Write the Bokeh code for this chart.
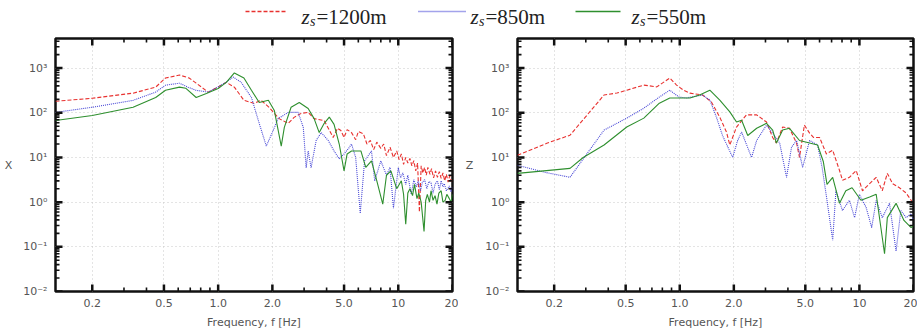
from bokeh.plotting import figure
from bokeh.models import (FixedTicker, CustomJSTickFormatter, Range1d, Label)
from bokeh.layouts import column, row
from bokeh.embed import file_html
from bokeh.resources import INLINE
import math

# ---------------- data ----------------
series_names = ["1200m", "850m", "550m"]
series_colors = ["#e8312f", "#4646d6", "#2e8f2e"]
series_dashes = ["4 2", "1 1", "solid"]

x_ticks = [0.2, 0.5, 1.0, 2.0, 5.0, 10.0, 20.0]
x_tick_labels = ["0.2", "0.5", "1.0", "2.0", "5.0", "10", "20"]
x_minor = [0.3, 0.4, 0.6, 0.7, 0.8, 0.9, 3.0, 4.0, 6.0, 7.0, 8.0, 9.0]
y_ticks = [1e-2, 1e-1, 1e0, 1e1, 1e2, 1e3]
y_tick_labels = ["10\u207b\u00b2", "10\u207b\u00b9", "10\u2070", "10\u00b9", "10\u00b2", "10\u00b3"]

# X component
x_f_1200 = [0.125, 0.2, 0.337, 0.45, 0.51, 0.61, 0.69, 0.755, 0.88, 1.0, 1.11, 1.23, 1.39, 1.58, 1.73,
            1.92, 2.18, 2.45, 2.64, 2.89, 3.16, 3.41, 3.88, 4.35, 4.6, 4.8, 5.0, 5.2, 5.5, 5.8, 6.0,
            6.4, 6.7, 7.0, 7.3, 7.6, 8.0, 8.3, 8.6, 9.0, 9.4, 9.8, 10.1, 10.4, 10.7, 11.0, 11.3, 11.6,
            11.9, 12.2, 12.5, 12.8, 13.1, 13.4, 13.7, 14.0, 14.3, 14.6, 15.0, 15.3, 15.7, 16.1, 16.5,
            16.9, 17.3, 17.7, 18.1, 18.5, 18.9, 19.3, 19.7, 20.0]
x_v_1200 = [181, 211, 275, 375, 600, 700, 600, 460, 290, 380, 480, 375, 190, 163, 190,
            132, 74, 58, 79, 97, 102, 74, 67, 28, 45, 40, 28, 42, 36, 25, 38,
            34, 20, 24, 15, 22, 16, 20, 11, 17, 10, 14, 9, 12, 7, 10, 7.5, 9.5,
            6.5, 8.5, 5, 7.5, 0.6, 6.5, 4.5, 6, 4, 6, 4.2, 5.6, 3.5, 5, 3.6,
            4.8, 3.4, 4.5, 3, 4.2, 2.8, 3.9, 2.9, 3.2]

x_f_850 = [0.125, 0.2, 0.337, 0.45, 0.51, 0.61, 0.68, 0.75, 0.88, 1.0, 1.11, 1.21, 1.34, 1.53, 1.69,
           1.85, 2.02, 2.15, 2.45, 2.78, 2.97, 3.08, 3.16, 3.28, 3.5, 3.73, 4.08, 4.4, 4.7, 5.0,
           5.3, 5.5, 5.8, 6.15, 6.5, 7.1, 7.4, 8.0, 8.6, 9.0, 9.4, 10.0, 10.3, 10.6, 11.0, 11.3,
           11.8, 12.2, 12.6, 12.9, 13.3, 13.6, 14.0, 14.4, 14.8, 15.2, 15.6, 16.0, 16.5, 16.9,
           17.3, 17.7, 18.0, 18.5, 19.2, 19.6, 20.0]
x_v_850 = [102, 133, 190, 290, 415, 460, 375, 320, 290, 380, 485, 630, 485, 220, 58,
           18, 40, 74, 102, 102, 47, 5.9, 14, 5.9, 24, 36, 24, 14, 9.3, 12,
           16, 20, 10, 0.56, 8.4, 14, 3, 8.4, 4, 6, 0.73, 5.9, 3.5, 4.5, 2.5, 4,
           1.5, 3.2, 2.2, 3, 1.8, 2.8, 3.2, 2, 2.9, 2.7, 1.6, 2.5, 3, 1.9,
           3, 2.2, 2.6, 1.8, 2.3, 1.7, 2.2]

x_f_550 = [0.125, 0.2, 0.337, 0.45, 0.51, 0.61, 0.66, 0.755, 0.86, 1.0, 1.11, 1.23, 1.39, 1.53, 1.69,
           1.9, 2.05, 2.24, 2.33, 2.54, 2.82, 3.16, 3.41, 3.64, 3.88, 4.14, 4.4, 4.7, 5.0, 5.2,
           5.5, 6.2, 6.6, 7.1, 7.6, 8.2, 8.6, 9.1, 9.8, 10.4, 10.7, 11.0, 11.3, 11.6, 12.0, 12.3,
           12.7, 13.0, 13.4, 13.9, 14.2, 14.5, 14.9, 15.2, 15.6, 16.0, 16.4, 16.8, 17.3, 17.7,
           18.2, 18.6, 19.2, 19.6, 20.0]
x_v_550 = [67, 87, 133, 220, 320, 375, 355, 220, 270, 350, 480, 780, 600, 320, 170,
           190, 113, 18, 47, 133, 170, 125, 74, 36, 58, 80, 55, 20, 5, 12,
           14, 14, 6, 8.4, 3, 0.9, 4, 5, 2, 3, 1.5, 0.32, 1.6, 2, 1.4, 2.5,
           1.2, 1.6, 1.0, 0.22, 1.1, 1.5, 1.0, 1.8, 1.1, 1.4, 0.9, 1.6, 1.8, 1.0,
           1.1, 1.5, 1.2, 1.0, 1.5]

# Z component
z_f_1200 = [0.125, 0.182, 0.245, 0.379, 0.447, 0.507, 0.631, 0.745, 0.88, 0.96, 1.05, 1.14, 1.34, 1.5,
            1.67, 1.82, 1.9, 2.07, 2.35, 2.68, 3.04, 3.29, 3.45, 3.74, 4.08, 4.47, 4.64, 4.94, 5.28,
            5.55, 6.0, 6.55, 7.1, 7.75, 8.05, 8.8, 9.6, 10.4, 11.4, 12.4, 13.4, 14.3, 15.3, 16.7,
            18.2, 19.4, 20.0]
z_v_1200 = [11.2, 20.8, 31.5, 250, 277, 320, 417, 380, 600, 417, 320, 275, 250, 175,
            80, 37, 19, 48, 90, 90, 62, 28, 21, 48, 45, 21, 10, 53, 35,
            28, 28, 12, 14.5, 5.1, 3.1, 3.6, 5.1, 1.8, 2.6, 3.6, 1.8, 4.4, 2.6, 2.1,
            1.6, 1.1, 0.9]

z_f_850 = [0.125, 0.18, 0.245, 0.379, 0.507, 0.631, 0.77, 0.88, 0.99, 1.09, 1.34, 1.47, 1.6, 1.73,
           1.97, 2.1, 2.21, 2.51, 2.68, 3.04, 3.29, 3.6, 3.93, 4.19, 4.47, 4.83, 5.28, 5.85, 6.2,
           6.6, 7.1, 7.4, 8.05, 8.8, 9.4, 10.0, 10.9, 11.7, 12.4, 13.4, 14.7, 16.0, 17.0, 18.2,
           19.4, 20.0]
z_v_850 = [6.7, 4.6, 3.6, 41, 76, 127, 225, 320, 225, 215, 250, 193, 80, 31,
           10, 24, 37, 10, 24, 53, 35, 21, 3.6, 17, 24, 6, 24, 19, 6,
           1.1, 0.14, 1.8, 0.65, 1.1, 0.45, 1.5, 0.76, 0.27, 1.1, 0.45, 0.94, 0.08, 0.65, 0.45,
           0.55, 0.4]

z_f_550 = [0.125, 0.245, 0.29, 0.379, 0.507, 0.631, 0.77, 0.88, 1.14, 1.29, 1.47, 1.67, 1.9, 2.07,
           2.21, 2.39, 2.68, 3.04, 3.29, 3.45, 3.74, 4.08, 4.64, 5.28, 5.85, 6.3, 6.6, 7.1, 7.75,
           8.4, 9.1, 10.2, 11.4, 12.4, 13.8, 14.3, 16.0, 17.7, 19.4, 20.0]
z_v_550 = [4.4, 5.7, 10, 19, 48, 76, 164, 215, 215, 250, 320, 193, 105, 62,
           68, 31, 45, 58, 41, 21, 41, 45, 24, 21, 19, 8, 2.5, 3.6, 0.94,
           1.8, 2.1, 1.1, 1.3, 1.5, 0.07, 0.45, 0.94, 0.39, 0.27, 0.3]

x_series = [(x_f_1200, x_v_1200), (x_f_850, x_v_850), (x_f_550, x_v_550)]
z_series = [(z_f_1200, z_v_1200), (z_f_850, z_v_850), (z_f_550, z_v_550)]

X_LO, X_HI = 0.125, 20.0
Y_LO, Y_HI = 0.01, 4600.0
FRAME_H = 253

TICK_FONT = "DejaVu Sans"
TICK_COLOR = "#555555"

label_code = """
let best = 0, bd = Infinity;
for (let i = 0; i < tvals.length; i++) {
  const d = Math.abs(Math.log(tick) - Math.log(tvals[i]));
  if (d < bd) { bd = d; best = i; }
}
return tlabels[best];
"""


def style_axis(ax):
    ax.axis_line_color = None
    ax.major_tick_in = 0
    ax.major_tick_out = 0
    ax.minor_tick_in = 0
    ax.minor_tick_out = 0
    ax.major_label_text_font = TICK_FONT
    ax.major_label_text_font_size = "11px"
    ax.major_label_text_color = TICK_COLOR
    ax.axis_label_text_font = TICK_FONT
    ax.axis_label_text_font_size = "11px"
    ax.axis_label_text_font_style = "normal"
    ax.axis_label_text_color = TICK_COLOR


def frame_ticks(p, frame_w, y_minor):
    # inward tick marks along all four frame edges; lengths given in pixels
    xpd = frame_w / math.log10(X_HI / X_LO)      # pixels per decade, x
    ypd = FRAME_H / math.log10(Y_HI / Y_LO)      # pixels per decade, y
    ymn = [t for t in y_minor if Y_LO < t < Y_HI]
    for ticks_, length, width in ((x_ticks, 7, 2.5), (x_minor, 4, 1.6)):
        fy = 10 ** (length / ypd)
        p.segment(x0=ticks_, x1=ticks_, y0=[Y_LO] * len(ticks_), y1=[Y_LO * fy] * len(ticks_),
                  line_color="#111111", line_width=width)
        p.segment(x0=ticks_, x1=ticks_, y0=[Y_HI] * len(ticks_), y1=[Y_HI / fy] * len(ticks_),
                  line_color="#111111", line_width=width)
    for ticks_, length, width in ((y_ticks, 7, 2.5), (ymn, 4, 1.6)):
        fx = 10 ** (length / xpd)
        p.segment(x0=[X_LO] * len(ticks_), x1=[X_LO * fx] * len(ticks_), y0=ticks_, y1=ticks_,
                  line_color="#111111", line_width=width)
        p.segment(x0=[X_HI] * len(ticks_), x1=[X_HI / fx] * len(ticks_), y0=ticks_, y1=ticks_,
                  line_color="#111111", line_width=width)


def make_panel(series, ylabel, border_left, frame_w, border_right, ylabel_standoff):
    p = figure(x_axis_type="log", y_axis_type="log",
               x_range=Range1d(X_LO, X_HI), y_range=Range1d(Y_LO, Y_HI),
               frame_width=frame_w, frame_height=FRAME_H,
               min_border_left=border_left, min_border_right=border_right,
               min_border_top=8, min_border_bottom=44,
               output_backend="svg", toolbar_location=None)
    p.outline_line_color = "#111111"
    p.outline_line_width = 2.5
    p.background_fill_color = "white"
    p.border_fill_color = "white"

    ymin = [k * 10.0 ** e for e in range(-2, 4) for k in range(2, 10)]

    p.xgrid.ticker = FixedTicker(ticks=x_ticks)
    p.ygrid.ticker = FixedTicker(ticks=y_ticks)
    p.grid.grid_line_color = "#c8c8c8"
    p.grid.grid_line_dash = "1 3"
    p.grid.grid_line_width = 1

    for (f, v), c, d in zip(series, series_colors, series_dashes):
        p.line(f, v, line_color=c, line_width=1.1, line_dash=d)

    frame_ticks(p, frame_w, ymin)

    p.xaxis.ticker = FixedTicker(ticks=x_ticks)
    p.xaxis.formatter = CustomJSTickFormatter(args=dict(tvals=x_ticks, tlabels=x_tick_labels),
                                              code=label_code)
    p.yaxis.ticker = FixedTicker(ticks=y_ticks)
    p.yaxis.formatter = CustomJSTickFormatter(args=dict(tvals=y_ticks, tlabels=y_tick_labels),
                                              code=label_code)
    for ax in p.xaxis:
        style_axis(ax)
        ax.major_label_standoff = 7
        ax.axis_label = "Frequency, f [Hz]"
        ax.axis_label_standoff = 6
    for ax in p.yaxis:
        style_axis(ax)
        ax.major_label_standoff = 8
        ax.axis_label = ylabel
        ax.axis_label_standoff = ylabel_standoff
        if "axis_label_orientation" in ax.properties():
            ax.axis_label_orientation = "horizontal"
    return p


p_x = make_panel(x_series, "X", 55, 397, 6, 8)
p_z = make_panel(z_series, "Z", 59, 396, 4, 9)

# ---------------- legend strip ----------------
leg = figure(frame_width=917, frame_height=30, x_range=Range1d(0, 917), y_range=Range1d(0, 30),
             x_axis_location=None, y_axis_location=None, min_border=0,
             output_backend="svg", toolbar_location=None)
leg.outline_line_color = None
leg.grid.visible = False

line_spans = [(245, 287), (418, 465), (575, 620)]
text_x = [301, 470, 631]
for (x0, x1), tx, name, c, d in zip(line_spans, text_x, series_names, series_colors, series_dashes):
    leg.line([x0, x1], [19, 19], line_color=c, line_width=1.6, line_dash=d)
    leg.add_layout(Label(x=tx, y=14, x_units="data", y_units="data", text="z",
                         text_font="Liberation Serif", text_font_style="italic",
                         text_font_size="21px", text_color="#222222", text_baseline="alphabetic"))
    leg.add_layout(Label(x=tx + 8.5, y=9, text="s",
                         text_font="Liberation Serif", text_font_style="italic",
                         text_font_size="14px", text_color="#222222", text_baseline="alphabetic"))
    leg.add_layout(Label(x=tx + 15, y=14, text="=" + name,
                         text_font="Liberation Serif", text_font_size="21px",
                         text_color="#222222", text_baseline="alphabetic"))

layout = column(leg, row(p_x, p_z))

with open("out.html", "w") as fh:
    fh.write(file_html(layout, INLINE))
